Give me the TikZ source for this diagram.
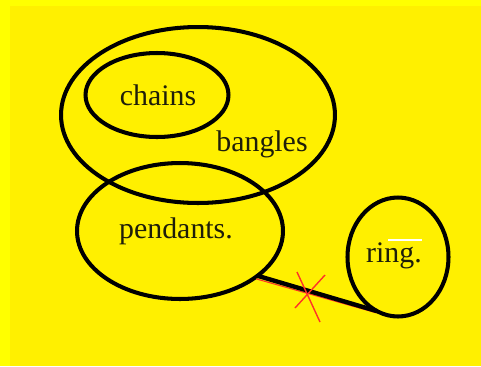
\documentclass[tikz,border=0pt]{standalone}
\usepackage{fontspec}
\setmainfont{Liberation Serif}
\usetikzlibrary{shapes.geometric}
\definecolor{paper}{RGB}{255,255,0}
\definecolor{sheet}{RGB}{255,240,0}
\definecolor{inkred}{RGB}{255,50,40}
\definecolor{inktext}{RGB}{30,30,10}
\begin{document}
\begin{tikzpicture}[x=0.02cm, y=-0.02cm,
  blob/.style={draw=black, ellipse, line width=2.3pt, inner sep=0pt, outer sep=0pt},
  word/.style={text=inktext, font=\fontsize{17}{20}\selectfont, inner sep=0pt},
  link/.style={draw=black, line width=2.5pt}]
  % background
  \useasboundingbox (0,0) rectangle (481,366);
  \fill[paper] (0,0) rectangle (481,366);
  \fill[sheet] (10,6) rectangle (481,366);
  % sets
  \node[blob, minimum width=5.48cm, minimum height=3.52cm] (bangles) at (198,115) {};
  \node[blob, minimum width=2.86cm, minimum height=1.68cm] (chains) at (157,95) {};
  \node[blob, minimum width=4.12cm, minimum height=2.72cm] (pendants) at (180,231) {};
  \node[blob, minimum width=2.02cm, minimum height=2.38cm] (ring) at (398,257) {};
  % labels
  \node[word] (chainsText) at (158,95) {chains};
  \node[word] (banglesText) at (262,144) {bangles};
  \node[word] (pendantsText) at (176,231) {pendants.};
  \node[word] (ringText) at (394,256) {ring.};
  \draw[white, line width=1.7pt] (388,240) -- (422,240);
  % crossed-out link
  \draw[inkred, line width=0.6pt] ([yshift=-1.2pt]pendants.-31) -- ([yshift=-1.2pt]ring.-112);
  \draw[link] (pendants.-30) -- (ring.-111);
  \draw[inkred, line width=0.8pt] (297,272) -- (320,322);
  \draw[inkred, line width=0.8pt] (325,275) -- (295,308);
\end{tikzpicture}
\end{document}
